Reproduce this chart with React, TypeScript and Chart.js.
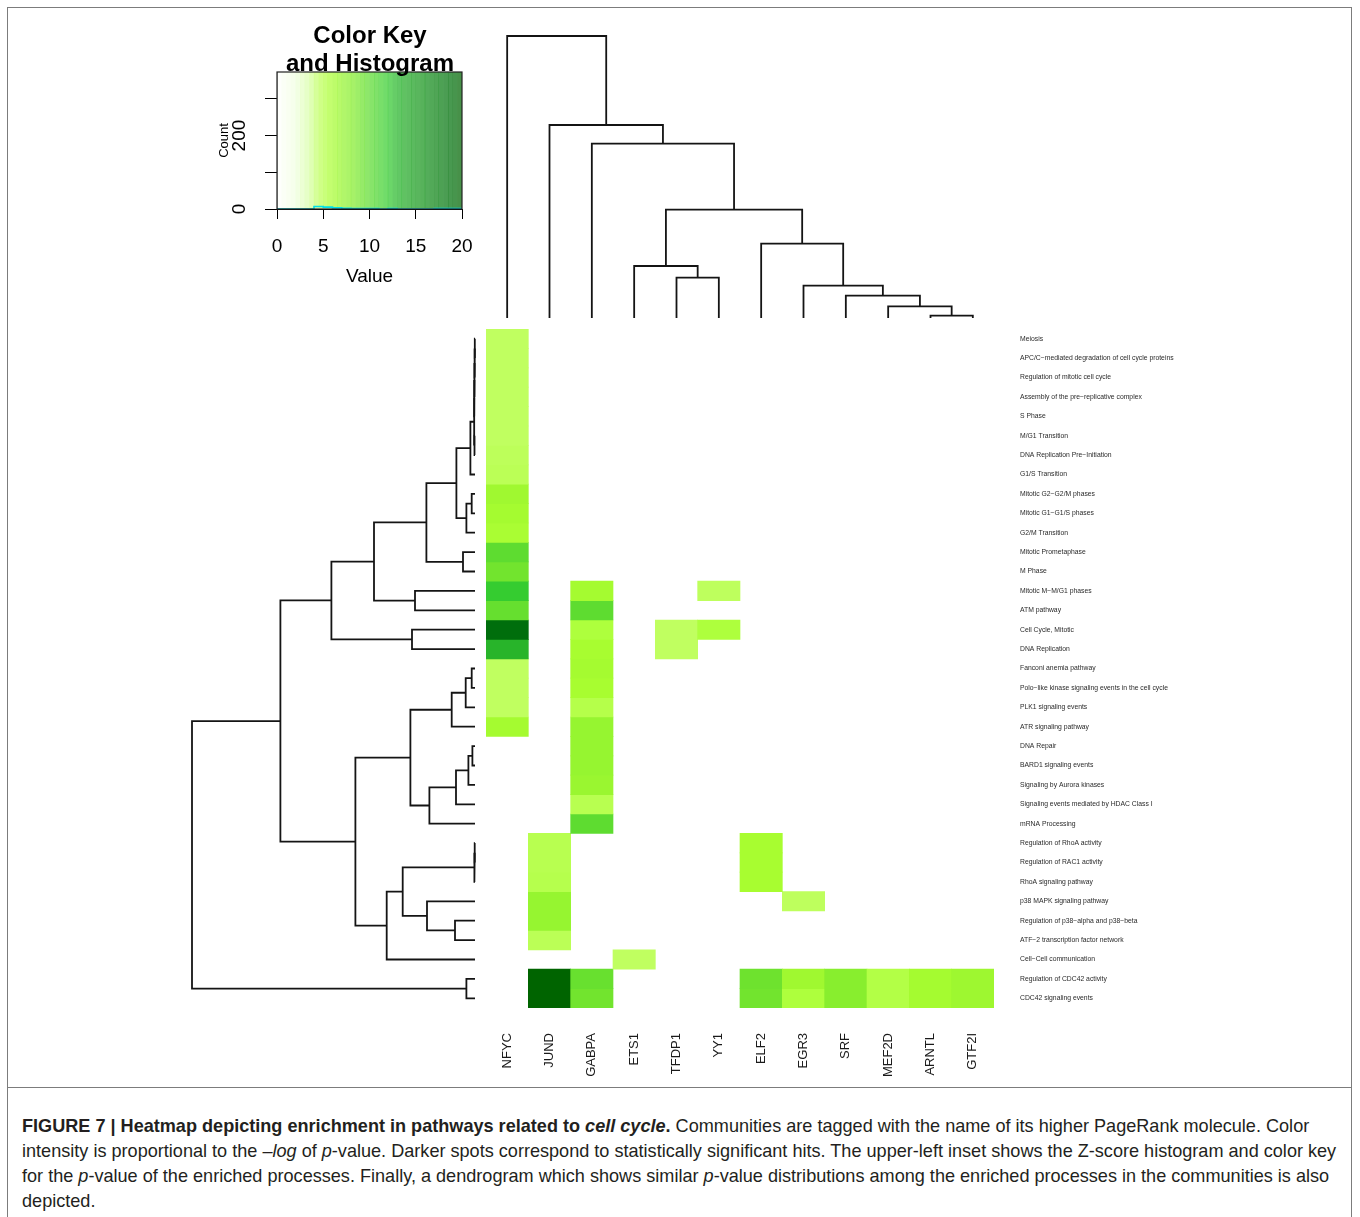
import React, { useEffect, useRef } from 'react';
import { Chart, registerables } from 'chart.js';

Chart.register(...registerables);

// ---------------- data ----------------
const N = null;

const colLabels = ['NFYC', 'JUND', 'GABPA', 'ETS1', 'TFDP1', 'YY1', 'ELF2', 'EGR3', 'SRF', 'MEF2D', 'ARNTL', 'GTF2I'];

const rowLabels = [
  'Meiosis',
  'APC/C\u2212mediated degradation of cell cycle proteins',
  'Regulation of mitotic cell cycle',
  'Assembly of the pre\u2212replicative complex',
  'S Phase',
  'M/G1 Transition',
  'DNA Replication Pre\u2212Initiation',
  'G1/S Transition',
  'Mitotic G2\u2212G2/M phases',
  'Mitotic G1\u2212G1/S phases',
  'G2/M Transition',
  'Mitotic Prometaphase',
  'M Phase',
  'Mitotic M\u2212M/G1 phases',
  'ATM pathway',
  'Cell Cycle, Mitotic',
  'DNA Replication',
  'Fanconi anemia pathway',
  'Polo\u2212like kinase signaling events in the cell cycle',
  'PLK1 signaling events',
  'ATR signaling pathway',
  'DNA Repair',
  'BARD1 signaling events',
  'Signaling by Aurora kinases',
  'Signaling events mediated by HDAC Class I',
  'mRNA Processing',
  'Regulation of RhoA activity',
  'Regulation of RAC1 activity',
  'RhoA signaling pathway',
  'p38 MAPK signaling pathway',
  'Regulation of p38\u2212alpha and p38\u2212beta',
  'ATF\u22122 transcription factor network',
  'Cell\u2212Cell communication',
  'Regulation of CDC42 activity',
  'CDC42 signaling events',
];

// -log(p) values per community column (null = not enriched)
const nfyc = [4.5, 4.5, 4.5, 4.5, 4.5, 4.5, 4.7, 4.8, 6.5, 6.2, 5.9, 10, 9, 12, 9.6, 19, 13, 4.5, 4.5, 4.5, 6.2, N, N, N, N, N, N, N, N, N, N, N, N, N, N];
const jund = [N, N, N, N, N, N, N, N, N, N, N, N, N, N, N, N, N, N, N, N, N, N, N, N, N, N, 5.0, 5.0, 5.1, 7, 7, 4.8, N, 20, 20];
const gabpa = [N, N, N, N, N, N, N, N, N, N, N, N, N, 6.2, 10, 5.6, 6.0, 6.2, 6.0, 5.2, 7, 7, 7, 6.8, 5.0, 10, N, N, N, N, N, N, N, 9.5, 9.0];
const ets1 = [N, N, N, N, N, N, N, N, N, N, N, N, N, N, N, N, N, N, N, N, N, N, N, N, N, N, N, N, N, N, N, N, 4.5, N, N];
const tfdp1 = [N, N, N, N, N, N, N, N, N, N, N, N, N, N, N, 4.5, 4.5, N, N, N, N, N, N, N, N, N, N, N, N, N, N, N, N, N, N];
const yy1 = [N, N, N, N, N, N, N, N, N, N, N, N, N, 4.6, N, 5.6, N, N, N, N, N, N, N, N, N, N, N, N, N, N, N, N, N, N, N];
const elf2 = [N, N, N, N, N, N, N, N, N, N, N, N, N, N, N, N, N, N, N, N, N, N, N, N, N, N, 6, 6, 6, N, N, N, N, 9.2, 9.0];
const egr3 = [N, N, N, N, N, N, N, N, N, N, N, N, N, N, N, N, N, N, N, N, N, N, N, N, N, N, N, N, N, 4.6, N, N, N, 6.5, 5.6];
const srf = [N, N, N, N, N, N, N, N, N, N, N, N, N, N, N, N, N, N, N, N, N, N, N, N, N, N, N, N, N, N, N, N, N, 8, 8];
const mef2d = [N, N, N, N, N, N, N, N, N, N, N, N, N, N, N, N, N, N, N, N, N, N, N, N, N, N, N, N, N, N, N, N, N, 5.3, 5.3];
const arntl = [N, N, N, N, N, N, N, N, N, N, N, N, N, N, N, N, N, N, N, N, N, N, N, N, N, N, N, N, N, N, N, N, N, 6.2, 6.2];
const gtf2i = [N, N, N, N, N, N, N, N, N, N, N, N, N, N, N, N, N, N, N, N, N, N, N, N, N, N, N, N, N, N, N, N, N, 6.6, 6.6];
const columns = [nfyc, jund, gabpa, ets1, tfdp1, yy1, elf2, egr3, srf, mef2d, arntl, gtf2i];

// Row dendrogram (hclust-style merges: negative = leaf row, positive = earlier merge)
const rowMergeA = [-1, 1, 2, 3, -6, 4, 6, -9, 8, 7, -12, 10, -14, 12, -16, 14, -18, 17, 18, -22, 20, 21, 22, 19, -27, 25, -31, -30, 26, 29, 24, 16, -34, 32];
const rowMergeB = [-2, -3, -4, -5, -7, 5, -8, -10, -11, 9, -13, 11, -15, 13, -17, 15, -19, -20, -21, -23, -24, -25, -26, 23, -28, -29, -32, 27, 28, -33, 30, 31, -35, 33];
const rowMergeH = [0.2, 0.4, 0.6, 0.8, 0.5, 1.0, 4.6, 3.3, 8.6, 18.6, 12, 48.6, 60, 101, 63, 143.6, 3.3, 9.3, 23.3, 2.6, 6.6, 19, 45.6, 64.6, 0.3, 0.6, 20, 48, 72.3, 88.3, 119.6, 194.6, 8.6, 283];

// Column dendrogram
const colMergeA = [-11, -10, -9, -8, -5, -4, -7, 6, -3, -2, -1];
const colMergeB = [-12, 1, 2, 3, -6, 5, 4, 7, 8, 9, 10];
const colMergeH = [2.4, 11.7, 22.4, 32.4, 40.4, 52, 74.4, 108.4, 174.4, 193, 282];

// Color key & histogram
const keyBins = [0.25, 0.75, 1.25, 1.75, 2.25, 2.75, 3.25, 3.75, 4.25, 4.75, 5.25, 5.75, 6.25, 6.75, 7.25, 7.75, 8.25, 8.75, 9.25, 9.75, 10.25, 10.75, 11.25, 11.75, 12.25, 12.75, 13.25, 13.75, 14.25, 14.75, 15.25, 15.75, 16.25, 16.75, 17.25, 17.75, 18.25, 18.75, 19.25, 19.75];
const keyCountMax = 373;
const histEdges = [0, 1, 2, 3, 4, 5, 6, 7, 8, 9, 10, 11, 12, 13, 14, 15, 16, 17, 18, 19, 20];
const histCounts = [0, 0, 0, 0, 0, 7, 5, 3, 2, 1, 1, 1, 0, 1, 0, 0, 0, 0, 1, 1, 1];
const keyTicksX = [0, 5, 10, 15, 20];
const keyTicksY = [0, 100, 200, 300];
const keyLabeledY = [0, 200];

// ---------------- styles ----------------
const paletteStops: [number, string][] = [
  [0, '#ffffff'], [2, '#f0ffe0'], [3.5, '#d8ffa8'], [4.5, '#c0ff60'], [5, '#b8ff50'], [5.5, '#b0ff40'],
  [6, '#a8fd30'], [6.5, '#a0f830'], [7, '#96f530'], [8, '#88ee2e'], [9, '#72e42e'], [10, '#5edc30'],
  [12, '#35cc30'], [13, '#28b42a'], [19, '#006e0c'], [20, '#006400'],
];

function hexRgb(h: string) {
  return [parseInt(h.slice(1, 3), 16), parseInt(h.slice(3, 5), 16), parseInt(h.slice(5, 7), 16)];
}

function valueColor(v: number, alpha = 1) {
  let c = hexRgb(paletteStops[paletteStops.length - 1][1]);
  for (let k = 0; k < paletteStops.length - 1; k++) {
    const [v0, h0] = paletteStops[k];
    const [v1, h1] = paletteStops[k + 1];
    if (v <= v1) {
      const t = Math.max(0, Math.min(1, (v - v0) / (v1 - v0)));
      const a = hexRgb(h0), b = hexRgb(h1);
      c = a.map((x, i) => Math.round(x + (b[i] - x) * t));
      break;
    }
  }
  return `rgba(${c[0]},${c[1]},${c[2]},${alpha})`;
}

const SANS = '"Liberation Sans", Arial, Helvetica, sans-serif';
const LINE = '#141414';
const LINE_W = 1.8;
const CLEAR = 'rgba(0,0,0,0)';

function dendroShapes(mA: number[], mB: number[], mH: number[]) {
  const pos: number[] = [];
  const ht: number[] = [];
  const p = (r: number) => (r < 0 ? -r - 1 + 0.5 : pos[r - 1]);
  const h = (r: number) => (r < 0 ? 0 : ht[r - 1]);
  const shapes: number[][][] = [];
  for (let k = 0; k < mA.length; k++) {
    const pa = p(mA[k]), pb = p(mB[k]), ha = h(mA[k]), hb = h(mB[k]), H = mH[k];
    shapes.push([[ha, pa], [H, pa], [H, pb], [hb, pb]]);
    pos.push((pa + pb) / 2);
    ht.push(H);
  }
  return shapes;
}

const noPlugins = { legend: { display: false }, tooltip: { enabled: false }, title: { display: false } };

// ---------------- chart configs ----------------
function heatmapConfig(): any {
  return {
    type: 'bar',
    data: {
      labels: colLabels,
      datasets: rowLabels.map((name, i) => ({
        label: name,
        data: columns.map((col) => (col[i] == null ? null : [i, i + 1])),
        backgroundColor: columns.map((col) => (col[i] == null ? CLEAR : valueColor(col[i] as number))),
        borderWidth: 0,
        grouped: false,
        barPercentage: 1,
        categoryPercentage: 1,
        xAxisID: 'x',
        yAxisID: 'y',
      })),
    },
    options: {
      responsive: false,
      animation: false,
      layout: { padding: { top: 5, left: 0, right: 0, bottom: 0 } },
      plugins: noPlugins,
      scales: {
        x: {
          type: 'category',
          position: 'bottom',
          offset: true,
          grid: { display: true, drawOnChartArea: false, drawTicks: true, tickLength: 25, color: CLEAR, offset: true },
          border: { display: false },
          ticks: { autoSkip: false, minRotation: 90, maxRotation: 90, padding: 0, color: '#1a1a1a', font: { family: SANS, size: 13 } },
          afterFit: (s: any) => { s.height = 80; },
        },
        y: { type: 'linear', min: 0, max: 35, reverse: true, display: false },
        rows: {
          type: 'category',
          labels: rowLabels,
          position: 'right',
          offset: true,
          grid: { display: true, drawOnChartArea: false, drawTicks: true, tickLength: 26, color: CLEAR, offset: true },
          border: { display: false },
          ticks: { autoSkip: false, padding: 0, color: '#2a2a2a', font: { family: SANS, size: 6.8 } },
          afterFit: (s: any) => { s.width = 200; },
        },
      },
    },
  };
}

function rowDendroConfig(): any {
  const shapes = dendroShapes(rowMergeA, rowMergeB, rowMergeH);
  return {
    type: 'scatter',
    data: {
      datasets: shapes.map((s) => ({
        data: s.map(([hh, pp]) => ({ x: hh, y: pp })),
        showLine: true, borderColor: LINE, borderWidth: LINE_W, pointRadius: 0, clip: false, tension: 0,
      })),
    },
    options: {
      responsive: false, animation: false,
      layout: { padding: 10 },
      plugins: noPlugins,
      scales: {
        x: { type: 'linear', min: 0, max: 283, reverse: true, display: false },
        y: { type: 'linear', min: 0, max: 35, reverse: true, display: false },
      },
    },
  };
}

function colDendroConfig(): any {
  const shapes = dendroShapes(colMergeA, colMergeB, colMergeH);
  return {
    type: 'scatter',
    data: {
      datasets: shapes.map((s) => ({
        data: s.map(([hh, pp]) => ({ x: pp, y: hh })),
        showLine: true, borderColor: LINE, borderWidth: LINE_W, pointRadius: 0, clip: false, tension: 0,
      })),
    },
    options: {
      responsive: false, animation: false,
      layout: { padding: 10 },
      plugins: noPlugins,
      scales: {
        x: { type: 'linear', min: 0, max: 12, display: false },
        y: { type: 'linear', min: 0, max: 282, display: false },
      },
    },
  };
}

const boxPlugin = {
  id: 'keybox',
  afterDatasetsDraw(chart: any) {
    const { ctx, chartArea: a } = chart;
    ctx.save();
    ctx.strokeStyle = '#222';
    ctx.lineWidth = 1.2;
    ctx.strokeRect(a.left, a.top, a.right - a.left, a.bottom - a.top);
    ctx.restore();
  },
};

function keyConfig(): any {
  return {
    type: 'bar',
    data: {
      datasets: [
        {
          type: 'line',
          data: histEdges.map((e, i) => ({ x: e, y: histCounts[i] })),
          borderColor: '#00e0e8', borderWidth: 1.6, pointRadius: 0, stepped: 'after', order: 0,
        },
        {
          type: 'bar',
          data: keyBins.map((v) => ({ x: v, y: keyCountMax })),
          backgroundColor: keyBins.map((v) => valueColor(v, 0.72)),
          borderWidth: 0, barPercentage: 1.06, categoryPercentage: 1, order: 1,
        },
      ],
    },
    options: {
      responsive: false, animation: false,
      layout: { padding: { top: 12, left: 0, right: 28, bottom: 0 } },
      plugins: noPlugins,
      scales: {
        x: {
          type: 'linear', min: 0, max: 20, offset: false, position: 'bottom',
          afterBuildTicks: (s: any) => { s.ticks = keyTicksX.map((v) => ({ value: v })); },
          ticks: { color: '#000', padding: 16, font: { family: SANS, size: 19 }, includeBounds: false },
          grid: { drawOnChartArea: false, drawTicks: true, tickLength: 10, color: '#000', offset: false },
          border: { display: true, color: '#000' },
          title: { display: true, text: 'Value', color: '#000', font: { family: SANS, size: 19 }, padding: { top: 0, bottom: 12 } },
          afterFit: (s: any) => { s.height = 91; },
        },
        y: {
          type: 'linear', min: 0, max: keyCountMax, position: 'left',
          afterBuildTicks: (s: any) => { s.ticks = keyTicksY.map((v) => ({ value: v })); },
          ticks: {
            autoSkip: false,
            // symmetric padding spaces keep the rotated label centred on its tick
            callback: (v: any) => (keyLabeledY.includes(v) ? '\u2002' + String(v) + '\u2002' : ''),
            minRotation: 90, maxRotation: 90, crossAlign: 'center', padding: 0,
            color: '#000', font: { family: SANS, size: 19 },
          },
          grid: { drawOnChartArea: false, drawTicks: true, tickLength: 12, color: '#000' },
          border: { display: true, color: '#000' },
          title: { display: true, text: 'Count', color: '#000', font: { family: SANS, size: 13 }, padding: { top: 17, bottom: 0 } },
          afterFit: (s: any) => { s.width = 77; },
        },
      },
    },
    plugins: [boxPlugin],
  };
}

// ---------------- components ----------------
function ChartBox({ left, top, width, height, build }: { left: number; top: number; width: number; height: number; build: () => any }) {
  const ref = useRef<HTMLCanvasElement>(null);
  useEffect(() => {
    const chart = new Chart(ref.current as HTMLCanvasElement, build());
    return () => chart.destroy();
  }, []);
  return (
    <div style={{ position: 'absolute', left, top, width, height }}>
      <canvas ref={ref} width={width} height={height} style={{ display: 'block', width, height }} />
    </div>
  );
}

export default function App() {
  return (
    <div style={{ position: 'absolute', left: 0, top: 0, width: 1360, height: 1217, overflow: 'hidden', background: '#fff', fontFamily: SANS }}>
      {/* figure frame */}
      <div style={{ position: 'absolute', left: 7, top: 7, width: 1345, height: 1081, border: '1.5px solid #7c7c7c', boxSizing: 'border-box' }} />
      <div style={{ position: 'absolute', left: 7, top: 1087, width: 1345, height: 140, borderLeft: '1.5px solid #7c7c7c', borderRight: '1.5px solid #7c7c7c', boxSizing: 'border-box' }} />

      <ChartBox left={200} top={60} width={290} height={240} build={keyConfig} />
      <div style={{ position: 'absolute', left: 220, top: 21, width: 300, textAlign: 'center', fontWeight: 'bold', fontSize: 24, lineHeight: '28px', color: '#000', zIndex: 2 }}>
        <div>Color Key</div>
        <div>and Histogram</div>
      </div>

      <ChartBox left={476} top={26} width={528} height={302} build={colDendroConfig} />
      <ChartBox left={182} top={319} width={303} height={699} build={rowDendroConfig} />
      <ChartBox left={486} top={324} width={708} height={764} build={heatmapConfig} />

      <div style={{ position: 'absolute', left: 22, top: 1114, fontSize: 18.1, lineHeight: '25px', color: '#231f20', whiteSpace: 'nowrap' }}>
        <div><b>FIGURE 7 | Heatmap depicting enrichment in pathways related to <i>cell cycle</i>.</b> Communities are tagged with the name of its higher PageRank molecule. Color</div>
        <div>intensity is proportional to the <i>–log</i> of <i>p</i>-value. Darker spots correspond to statistically significant hits. The upper-left inset shows the Z-score histogram and color key</div>
        <div>for the <i>p</i>-value of the enriched processes. Finally, a dendrogram which shows similar <i>p</i>-value distributions among the enriched processes in the communities is also</div>
        <div>depicted.</div>
      </div>
    </div>
  );
}
